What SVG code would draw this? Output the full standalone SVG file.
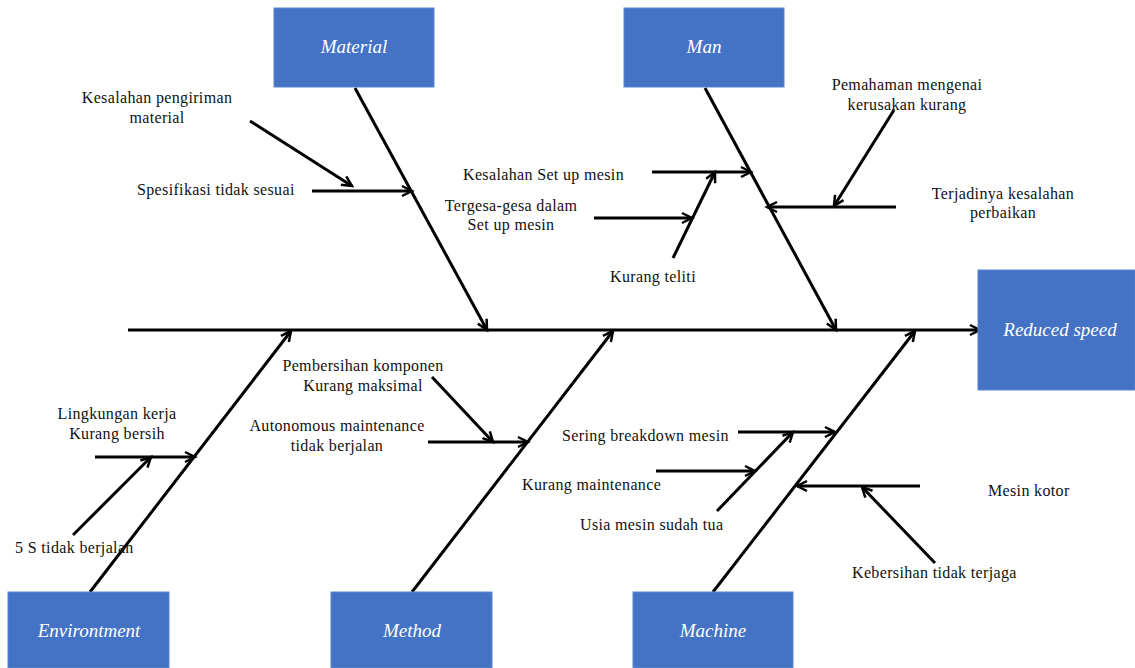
<svg xmlns="http://www.w3.org/2000/svg" width="1135" height="668" viewBox="0 0 1135 668">
<style>
.box{fill:#4472C4;stroke:#5b86d0;stroke-width:1}
.bt{font-family:'Liberation Serif','Times New Roman',Times,'DejaVu Serif',serif;font-style:italic;font-size:19px;fill:#fff;text-anchor:middle}
.t{font-family:'Liberation Serif','Times New Roman',Times,'DejaVu Serif',serif;font-size:16px;letter-spacing:0.35px;fill:#111}
.c{text-anchor:middle}
.ln{stroke:#000;stroke-width:3;fill:none;marker-end:url(#ah)}
</style>
<defs>
<marker id="ah" markerUnits="userSpaceOnUse" markerWidth="14" markerHeight="14" refX="11" refY="6" orient="auto" viewBox="0 0 14 12">
<path d="M1,1 L11,6 L1,11" fill="none" stroke="#000" stroke-width="2.5"/>
</marker>
</defs>
<rect width="1135" height="668" fill="#fff"/>
<g id="connectors">
<line class="ln" x1="128" y1="330" x2="980" y2="330"/>
<line class="ln" x1="355" y1="88" x2="487" y2="330"/>
<line class="ln" x1="705" y1="88" x2="836" y2="330"/>
<line class="ln" x1="90" y1="592" x2="291" y2="331"/>
<line class="ln" x1="412" y1="592" x2="613" y2="331"/>
<line class="ln" x1="713" y1="592" x2="915" y2="331"/>
<line class="ln" x1="312" y1="191" x2="412" y2="191"/>
<line class="ln" x1="250" y1="121" x2="352" y2="186"/>
<line class="ln" x1="652" y1="172" x2="751" y2="172"/>
<line class="ln" x1="594" y1="218" x2="692" y2="218"/>
<line class="ln" x1="673" y1="258" x2="715" y2="172"/>
<line class="ln" x1="896" y1="207" x2="767" y2="207"/>
<line class="ln" x1="894" y1="110" x2="834" y2="206"/>
<line class="ln" x1="95" y1="457" x2="195" y2="457"/>
<line class="ln" x1="73" y1="535" x2="151" y2="457"/>
<line class="ln" x1="428" y1="442" x2="528" y2="442"/>
<line class="ln" x1="432" y1="377" x2="493" y2="442"/>
<line class="ln" x1="738" y1="432" x2="835" y2="432"/>
<line class="ln" x1="656" y1="471" x2="755" y2="471"/>
<line class="ln" x1="717" y1="511" x2="793" y2="432"/>
<line class="ln" x1="920" y1="486" x2="797" y2="486"/>
<line class="ln" x1="935" y1="563" x2="862" y2="487"/>
</g>
<g id="material"><rect class="box" x="274" y="8" width="160" height="79"/><text class="bt" x="354" y="53">Material</text></g>
<g id="man"><rect class="box" x="624" y="8" width="160" height="79"/><text class="bt" x="704" y="53">Man</text></g>
<g id="effect"><rect class="box" x="978" y="270" width="157" height="120"/><text class="bt" x="1060" y="336">Reduced speed</text></g>
<g id="environment"><rect class="box" x="8" y="592" width="161" height="76"/><text class="bt" x="89" y="637">Environtment</text></g>
<g id="method"><rect class="box" x="331" y="592" width="161" height="76"/><text class="bt" x="412" y="637">Method</text></g>
<g id="machine"><rect class="box" x="633" y="592" width="160" height="76"/><text class="bt" x="713" y="637">Machine</text></g>
<g id="material-causes">
<text class="t c" x="157" y="103">Kesalahan pengiriman</text>
<text class="t c" x="157" y="123">material</text>
<text class="t" x="137" y="195">Spesifikasi tidak sesuai</text>
</g>
<g id="man-causes">
<text class="t" x="463" y="180">Kesalahan Set up mesin</text>
<text class="t c" x="511" y="211">Tergesa-gesa dalam</text>
<text class="t c" x="511" y="230">Set up mesin</text>
<text class="t c" x="653" y="282">Kurang teliti</text>
<text class="t c" x="907" y="90">Pemahaman mengenai</text>
<text class="t c" x="907" y="110">kerusakan kurang</text>
<text class="t c" x="1003" y="199">Terjadinya kesalahan</text>
<text class="t c" x="1003" y="218">perbaikan</text>
</g>
<g id="environment-causes">
<text class="t c" x="117" y="419">Lingkungan kerja</text>
<text class="t c" x="117" y="439">Kurang bersih</text>
<text class="t" x="15" y="553">5 S tidak berjalan</text>
</g>
<g id="method-causes">
<text class="t c" x="363" y="371">Pembersihan komponen</text>
<text class="t c" x="363" y="391">Kurang maksimal</text>
<text class="t c" x="337" y="431">Autonomous maintenance</text>
<text class="t c" x="337" y="451">tidak berjalan</text>
</g>
<g id="machine-causes">
<text class="t" x="562" y="441">Sering breakdown mesin</text>
<text class="t" x="522" y="490">Kurang maintenance</text>
<text class="t" x="580" y="530">Usia mesin sudah tua</text>
<text class="t" x="988" y="496">Mesin kotor</text>
<text class="t" x="852" y="578">Kebersihan tidak terjaga</text>
</g>
</svg>
